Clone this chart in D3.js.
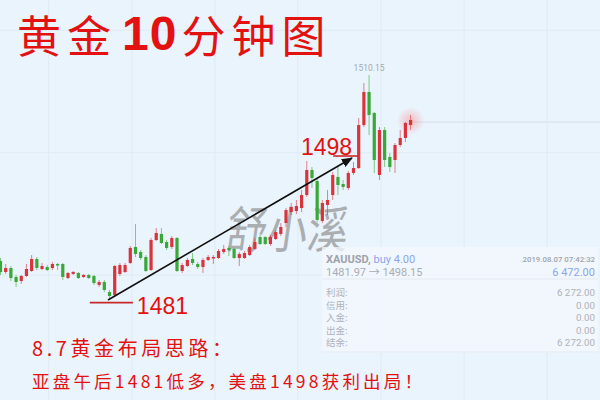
<!DOCTYPE html>
<html><head><meta charset="utf-8">
<script src="https://cdn.jsdelivr.net/npm/d3@7"></script>
<style>html,body{margin:0;padding:0;background:#eaf4fd;}svg{display:block;}</style>
</head><body><svg id="c" width="600" height="400"></svg>
<script>
// 10-minute XAUUSD candles (index 0..79)
const opens  = [1485.84,1484.40,1484.92,1483.75,1483.22,1483.88,1484.53,1486.10,1484.79,1485.05,
                1484.92,1485.44,1485.44,1483.61,1484.14,1484.27,1483.75,1484.01,1483.88,1482.70,
                1483.09,1481.78,1481.39,1484.14,1484.40,1485.58,1487.67,1487.01,1486.36,1484.66,
                1488.58,1489.37,1488.32,1487.67,1488.84,1484.53,1485.18,1486.10,1485.44,1485.05,
                1485.97,1486.23,1486.23,1487.01,1487.54,1487.41,1486.23,1486.23,1486.62,1487.41,
                1488.97,1488.97,1488.06,1488.71,1489.37,1490.80,1492.24,1492.37,1492.76,1494.46,
                1497.73,1496.29,1491.07,1493.16,1494.46,1496.82,1495.90,1495.38,1497.34,1497.99,
                1503.61,1507.93,1505.18,1497.08,1502.96,1499.43,1499.04,1501.00,1501.92,1503.61];
const highs  = [1486.23,1485.44,1485.18,1484.01,1484.01,1485.44,1486.62,1486.36,1485.58,1485.31,
                1485.71,1485.58,1485.58,1484.40,1484.53,1484.40,1484.14,1484.14,1484.01,1483.35,
                1483.35,1482.05,1485.31,1485.58,1485.58,1487.80,1490.67,1487.27,1486.62,1488.84,
                1490.15,1490.15,1488.58,1489.10,1488.97,1485.58,1486.23,1486.88,1485.71,1486.23,
                1486.62,1486.62,1487.41,1487.93,1487.80,1487.54,1487.01,1487.14,1487.93,1488.84,
                1489.24,1489.10,1489.24,1489.89,1490.80,1492.76,1493.42,1493.81,1495.12,1498.91,
                1498.12,1496.69,1493.81,1495.12,1497.47,1498.12,1496.42,1497.60,1498.78,1504.53,
                1509.10,1510.15,1505.31,1503.35,1503.35,1499.95,1501.26,1502.96,1504.01,1504.92];
const lows   = [1484.01,1484.14,1483.22,1482.44,1482.83,1483.75,1484.40,1484.66,1484.66,1484.53,
                1484.66,1484.66,1483.35,1483.48,1484.01,1483.48,1483.61,1483.48,1482.70,1482.44,
                1481.78,1481.00,1481.13,1483.88,1484.27,1485.44,1486.36,1485.97,1484.40,1484.53,
                1488.45,1488.06,1487.27,1487.41,1484.40,1484.27,1485.05,1485.31,1484.79,1484.27,
                1485.84,1485.44,1486.10,1486.75,1486.49,1486.10,1485.18,1486.10,1486.49,1487.27,
                1487.93,1487.93,1487.80,1488.58,1489.10,1490.28,1491.85,1491.98,1492.24,1494.20,
                1495.38,1490.93,1490.80,1491.85,1493.81,1494.46,1495.12,1495.12,1497.08,1497.86,
                1503.35,1502.31,1497.34,1496.42,1498.12,1497.47,1497.34,1500.74,1501.39,1502.96];
const closes = [1484.40,1484.92,1483.61,1483.09,1483.88,1484.79,1486.10,1484.92,1485.18,1484.66,
                1485.44,1485.25,1483.75,1484.27,1484.40,1483.61,1484.01,1483.61,1482.96,1483.09,
                1482.05,1481.26,1485.18,1485.31,1485.31,1487.54,1486.75,1486.23,1484.53,1488.58,
                1489.50,1488.19,1487.54,1488.84,1484.53,1485.31,1485.97,1485.58,1485.05,1485.97,
                1486.36,1486.36,1487.14,1487.41,1487.27,1486.23,1486.75,1486.88,1487.67,1488.32,
                1488.06,1488.06,1488.97,1489.63,1490.28,1492.50,1492.90,1493.03,1494.46,1497.73,
                1496.69,1491.20,1493.42,1493.81,1497.08,1495.77,1495.51,1497.34,1497.99,1503.61,
                1507.93,1504.92,1499.04,1502.96,1499.04,1498.12,1501.00,1501.92,1503.88,1504.27];

const gridIndex  = [9.3, 25.3, 41.3, 57.3, 73.3, 89.3, 105.3];
const gridPrices = [1484, 1500, 1516];
const highLabel  = "1510.15";
const titleParts = ["黄金", "10", "分钟图"];
const noteLine1  = "8.7黄金布局思路：";
const noteLine2  = "亚盘午后1481低多，美盘1498获利出局！";
const entryLabel = "1481", exitLabel = "1498";
const arrowFrom  = {i: 20.7, p: 1480.74};
const arrowTo    = {i: 67.7, p: 1499.30};
const entryMark  = {i0: 17.2, i1: 25.5, p: 1480.39};
const exitMark   = {i0: 64.1, i1: 68.9, p: 1499.56};
const panelHead  = {sym: "XAUUSD,", side: "buy 4.00", time: "2019.08.07 07:42:32",
                    move: "1481.97 → 1498.15", pl: "6 472.00"};
const panelRowsLabel = ["利润:", "信用:", "入金:", "出金:", "结余:"];
const panelRowsValue = ["6 272.00", "0.00", "0.00", "0.00", "6 272.00"];
const watermark = "舒小溪";

const W = 600, H = 400;
const UP = "#d9343b", DOWN = "#38a836", RED = "#e3110f";
const svg = d3.select("#c");
const idx = d3.range(opens.length);
const x = d3.scaleLinear().domain([0, 79]).range([0.5, 410.6]);
const y = d3.scaleLinear().domain([1481, 1510.15]).range([298, 75]);

svg.append("rect").attr("width", W).attr("height", H).attr("fill", "#eaf4fd");
const defs = svg.append("defs");
const rg = defs.append("radialGradient").attr("id", "glow");
rg.append("stop").attr("offset", "0%").attr("stop-color", "#ff6b6b").attr("stop-opacity", 0.4);
rg.append("stop").attr("offset", "100%").attr("stop-color", "#ff6b6b").attr("stop-opacity", 0);

// grid
svg.append("g").selectAll("line").data(gridIndex).join("line")
  .attr("x1", d => x(d)).attr("x2", d => x(d)).attr("y1", 0).attr("y2", H)
  .attr("stroke", "#dfeaf5").attr("stroke-width", 1);
svg.append("g").selectAll("line").data(gridPrices).join("line")
  .attr("x1", 0).attr("x2", W).attr("y1", d => y(d)).attr("y2", d => y(d))
  .attr("stroke", "#dfeaf5").attr("stroke-width", 1);

// title: three separate runs placed one after another
const titleFonts = [
  {ff: "'Noto Sans CJK SC', sans-serif", fw: "normal", fs: 44, by: 52.5, ls: 6},
  {ff: "'Liberation Sans', Arial, sans-serif", fw: "bold", fs: 48, by: 50, ls: 1},
  {ff: "'Noto Sans CJK SC', sans-serif", fw: "normal", fs: 44, by: 52.5, ls: 6}
];
let tx = 17;
titleParts.forEach((s, k) => {
  const f = titleFonts[k];
  const el = svg.append("text").attr("x", tx).attr("y", f.by).attr("fill", RED)
    .attr("font-size", f.fs).attr("letter-spacing", f.ls)
    .attr("font-family", f.ff).attr("font-weight", f.fw).text(s);
  tx += el.node().getComputedTextLength() + (k === 1 ? 4 : 5);
});

// watermark
svg.append("text").attr("x", 226).attr("y", 248).attr("font-size", 50)
  .attr("textLength", 122).attr("lengthAdjust", "spacingAndGlyphs")
  .attr("font-family", "'Noto Sans CJK SC', sans-serif")
  .attr("fill", "#808080").attr("opacity", 0.6).attr("transform", "skewX(-8) translate(33,0)")
  .text(watermark);

// last price line & glow
const last = opens.length - 1;
svg.append("line").attr("x1", x(last)).attr("x2", W).attr("y1", y(closes[last]) + 2).attr("y2", y(closes[last]) + 2)
  .attr("stroke", "#e0e9f2").attr("stroke-width", 2);
svg.append("circle").attr("cx", x(last)).attr("cy", y(closes[last]) + 1).attr("r", 14).attr("fill", "url(#glow)");

// candles
const cg = svg.append("g").selectAll("g").data(idx).join("g");
cg.append("line")
  .attr("x1", i => x(i)).attr("x2", i => x(i))
  .attr("y1", i => y(highs[i])).attr("y2", i => y(lows[i]))
  .attr("stroke", i => closes[i] >= opens[i] ? UP : DOWN)
  .attr("stroke-opacity", 0.6).attr("stroke-width", 1);
cg.append("rect")
  .attr("x", i => x(i) - 1.6).attr("width", 3.2)
  .attr("y", i => y(Math.max(opens[i], closes[i])))
  .attr("height", i => Math.max(1.5, Math.abs(y(opens[i]) - y(closes[i]))))
  .attr("fill", i => closes[i] >= opens[i] ? UP : DOWN);

// high label
const hi = d3.maxIndex(highs);
svg.append("text").attr("x", x(hi)).attr("y", y(highs[hi]) - 4).attr("text-anchor", "middle")
  .attr("font-size", 8.5).attr("fill", "#a3a8ae").attr("font-family", "Roboto, sans-serif").text(highLabel);

// arrow
defs.append("marker").attr("id", "arr").attr("viewBox", "0 0 10 10").attr("refX", 9).attr("refY", 5)
  .attr("markerWidth", 7).attr("markerHeight", 7).attr("orient", "auto")
  .append("path").attr("d", "M0,1 L10,5 L0,9 Z").attr("fill", "#111");
svg.append("line").attr("x1", x(arrowFrom.i)).attr("y1", y(arrowFrom.p))
  .attr("x2", x(arrowTo.i)).attr("y2", y(arrowTo.p))
  .attr("stroke", "#111").attr("stroke-width", 1.6).attr("marker-end", "url(#arr)");

// entry/exit marks
svg.append("line").attr("x1", x(entryMark.i0)).attr("x2", x(entryMark.i1))
  .attr("y1", y(entryMark.p)).attr("y2", y(entryMark.p)).attr("stroke", "#c8282c").attr("stroke-width", 1.6);
svg.append("text").attr("x", x(entryMark.i1) + 4).attr("y", y(entryMark.p) + 11)
  .attr("font-size", 23).attr("fill", RED).attr("font-family", "'Liberation Sans', Arial, sans-serif").text(entryLabel);
svg.append("line").attr("x1", x(exitMark.i0)).attr("x2", x(exitMark.i1))
  .attr("y1", y(exitMark.p)).attr("y2", y(exitMark.p)).attr("stroke", "#c8282c").attr("stroke-width", 1.6);
svg.append("text").attr("x", 301).attr("y", y(exitMark.p) - 1)
  .attr("font-size", 23).attr("fill", RED).attr("font-family", "'Liberation Sans', Arial, sans-serif").text(exitLabel);

// info panel
const P = svg.append("g").attr("font-family", "Roboto, 'Noto Sans CJK SC', sans-serif");
P.append("rect").attr("x", 322).attr("y", 247).attr("width", 276).attr("height", 106)
  .attr("fill", "#f4f8fd").attr("opacity", 0.75);
P.append("line").attr("x1", 322).attr("x2", 598).attr("y1", 279).attr("y2", 279).attr("stroke", "#e3e9f0");
P.append("line").attr("x1", 322).attr("x2", 598).attr("y1", 352).attr("y2", 352).attr("stroke", "#e3e9f0");
const h1 = P.append("text").attr("x", 326).attr("y", 263).attr("font-size", 11);
h1.append("tspan").attr("font-weight", "bold").attr("fill", "#9ea3a9").text(panelHead.sym);
h1.append("tspan").attr("fill", "#8ba6f0").text(" " + panelHead.side);
P.append("text").attr("x", 595).attr("y", 262).attr("text-anchor", "end").attr("font-size", 7.8)
  .attr("font-weight", 500).attr("fill", "#a0a5ab").text(panelHead.time);
P.append("text").attr("x", 326).attr("y", 276).attr("font-size", 11).attr("fill", "#a8adb3").text(panelHead.move);
P.append("text").attr("x", 595).attr("y", 276).attr("text-anchor", "end").attr("font-size", 11)
  .attr("fill", "#8ba6f0").text(panelHead.pl);
panelRowsLabel.forEach((lab, k) => {
  const by = 296 + k * 12.6;
  P.append("text").attr("x", 326).attr("y", by).attr("font-size", 9.5).attr("fill", "#aeb2b8")
    .attr("font-family", "'Noto Sans CJK SC', sans-serif").text(lab);
  P.append("text").attr("x", 595).attr("y", by).attr("text-anchor", "end").attr("font-size", 9.8)
    .attr("fill", "#aeb2b8").text(panelRowsValue[k]);
});

// notes
svg.append("text").attr("x", 32).attr("y", 356).attr("font-size", 20).attr("fill", RED)
  .attr("textLength", 200).attr("lengthAdjust", "spacing")
  .attr("font-family", "'Noto Sans CJK SC', sans-serif").text(noteLine1);
svg.append("text").attr("x", 32).attr("y", 388).attr("font-size", 17.5).attr("fill", RED)
  .attr("textLength", 390).attr("lengthAdjust", "spacing")
  .attr("font-family", "'Noto Sans CJK SC', sans-serif").text(noteLine2);
</script>
</body></html>
